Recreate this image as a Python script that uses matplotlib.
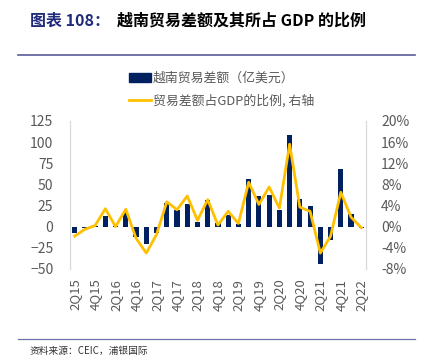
import matplotlib
matplotlib.use("Agg")
import matplotlib.pyplot as plt
from matplotlib.lines import Line2D
from matplotlib.patches import Patch
import numpy as np

plt.rcParams['font.family'] = ['Noto Sans CJK SC', 'DejaVu Sans']

# quarters 2Q15 .. 2Q22
quarters = ['2Q15', '3Q15', '4Q15', '1Q16', '2Q16', '3Q16', '4Q16', '1Q17', '2Q17', '3Q17',
            '4Q17', '1Q18', '2Q18', '3Q18', '4Q18', '1Q19', '2Q19', '3Q19', '4Q19', '1Q20',
            '2Q20', '3Q20', '4Q20', '1Q21', '2Q21', '3Q21', '4Q21', '1Q22', '2Q22']
balance = [-8, -2, 0.5, 13, 0.3, 17, -12, -21, -8, 28,
           20, 27, 6, 32, 4, 14, 3, 56, 36, 38,
           20, 108, 33, 25, -44, -16, 68, 15, -2]
pct_gdp = [-1.8, -0.5, 0.2, 3.4, 0.0, 3.3, -2.2, -5.0, -1.5, 4.7,
           3.2, 5.8, 1.2, 5.1, 0.3, 2.9, 0.6, 8.4, 4.2, 7.5,
           3.5, 15.6, 3.7, 2.9, -5.0, -1.8, 6.5, 1.8, -0.2]

navy = '#002060'
gold = '#FFC000'
grey = '#595959'

fig = plt.figure(figsize=(4.23, 3.61), dpi=100)
ax = fig.add_axes([0.1655, 0.255, 0.6995, 0.41])
ax2 = ax.twinx()

x = np.arange(len(quarters))
ax.bar(x, balance, width=0.5, color=navy, zorder=2)
ax2.plot(x, pct_gdp, color=gold, lw=2, zorder=3)

ax.set_xlim(-0.45, len(quarters) - 0.55)
ax.set_ylim(-50, 125)
ax.set_yticks(np.arange(-50, 126, 25))
ax2.set_ylim(-8, 20)
ax2.set_yticks(np.arange(-8, 21, 4))
ax2.set_yticklabels([f'{v}%' for v in range(-8, 21, 4)])

ax.set_xticks(x[::2])
ax.set_xticklabels(quarters[::2], rotation=90)

for a in (ax, ax2):
    for s in ('top', 'bottom'):
        a.spines[s].set_visible(False)
    a.spines['left'].set_color('#D9D9D9')
    a.spines['right'].set_color('#D9D9D9')
    a.tick_params(length=0, colors=grey, labelsize=10)
ax.tick_params(axis='y', pad=12)
ax2.tick_params(axis='y', pad=11)
ax.tick_params(axis='x', pad=7, labelsize=9.5)

ax2.set_zorder(ax.get_zorder() + 1)
ax2.patch.set_visible(False)

handles = [Patch(color=navy), Line2D([], [], color=gold, lw=2)]
labels = ['越南贸易差额（亿美元）', '贸易差额占GDP的比例, 右轴']
fig.legend(handles, labels, loc='center left', bbox_to_anchor=(0.29, 0.751), frameon=False,
           fontsize=9.3, labelcolor=grey, handlelength=1.7, handleheight=0.7,
           handletextpad=0.15, labelspacing=0.7, borderpad=0)

# title
fig.text(0.07, 0.942, '图表 108：', color='#1F2A7A', fontsize=11.5, fontweight='bold', va='center')
fig.text(0.277, 0.942, '越南贸易差额及其所占 GDP 的比例', color='black', fontsize=11.5,
         fontweight='bold', va='center')
fig.add_artist(Line2D([0.043, 0.981], [0.848, 0.848], color='#5B5B9A', lw=1.2))
fig.add_artist(Line2D([0.043, 0.981], [0.061, 0.061], color='#7070A8', lw=0.9))
fig.text(0.07, 0.027, '资料来源：CEIC，浦银国际', color='#333333', fontsize=7, va='center')

fig.savefig('out.png', dpi=100)
